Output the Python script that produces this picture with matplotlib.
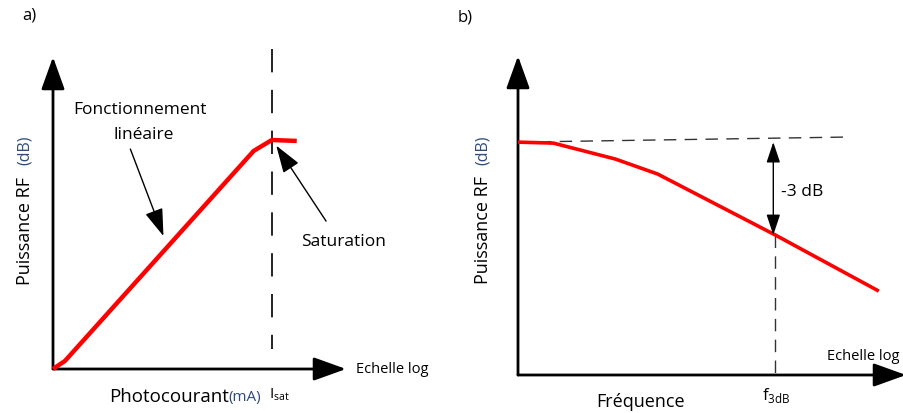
import matplotlib.pyplot as plt

plt.rcParams['font.family'] = ['Open Sans', 'DejaVu Sans']

# ---- data (normalised schematic units, axes fraction 0..1)
# panel a : RF power vs photocurrent (log scale)
photocourant = [0.0, 0.041, 0.685, 0.747, 0.832]
puissance_a = [0.0, 0.026, 0.699, 0.734, 0.731]
i_sat = 0.747

# panel b : RF power vs frequency (log scale)
frequence = [0.0, 0.091, 0.251, 0.360, 0.663, 0.930]
puissance_b = [0.730, 0.727, 0.677, 0.630, 0.439, 0.263]
f_3db = 0.663
ref_level = [0.730, 0.746]   # dashed reference, start / end
ref_end = 0.852

RED = '#ff0000'
BLUE = '#2f4b7c'
W, H = 904, 414

fig = plt.figure(figsize=(W / 100, H / 100), dpi=100)


def add_panel(x0, y0, x1, y1):
    # pixel box (origin bottom-left corner at x0,y0 ; arrow tips at x1,y1)
    ax = fig.add_axes([x0 / W, 1 - y0 / H, (x1 - x0) / W, (y0 - y1) / H])
    ax.set_xlim(0, 1)
    ax.set_ylim(0, 1)
    ax.axis('off')
    head = dict(arrowstyle='-|>,head_length=1.0,head_width=0.36', lw=2,
                color='black', mutation_scale=20, shrinkA=0, shrinkB=0)
    ax.annotate('', xy=(0, 1), xytext=(0, 0), arrowprops=head, annotation_clip=False)
    ax.annotate('', xy=(1, 0), xytext=(0, 0), arrowprops=head, annotation_clip=False)
    return ax


def ylabel(ax, xoff, y_main, y_unit):
    ax.text(xoff, y_main, 'Puissance RF', rotation=90, ha='center', va='center',
            fontsize=13, transform=ax.transAxes)
    ax.text(xoff, y_unit, '(dB)', rotation=90, ha='center', va='center',
            fontsize=11.5, color=BLUE, transform=ax.transAxes)


# ---------------- panel a
axa = add_panel(53, 370, 346, 58)
axa.plot(photocourant, puissance_a, color=RED, lw=3.2, solid_capstyle='butt',
         solid_joinstyle='round', clip_on=False, zorder=3)
axa.plot([i_sat, i_sat], [1.026, 0.064], color='#222222', lw=1.4,
         dashes=(12, 9), clip_on=False)
arr = dict(arrowstyle='-|>,head_length=0.9,head_width=0.3', lw=1, color='black',
           mutation_scale=19, shrinkA=0, shrinkB=0)
axa.annotate('', xy=(0.377, 0.426), xytext=(0.264, 0.705), arrowprops=arr)
axa.annotate('', xy=(0.762, 0.716), xytext=(0.932, 0.474), arrowprops=arr)
axa.text(0.298, 0.833, 'Fonctionnement', ha='center', va='center', fontsize=12.5)
axa.text(0.308, 0.753, 'linéaire', ha='center', va='center', fontsize=12.5)
axa.text(0.993, 0.410, 'Saturation', ha='center', va='center', fontsize=12.5)
axa.text(1.035, 0.0, 'Echelle log', ha='left', va='center', fontsize=10.5)
axa.text(0.599, -0.087, 'Photocourant', ha='right', va='center', fontsize=13.5)
axa.text(0.599, -0.087, '(mA)', ha='left', va='center', fontsize=11, color=BLUE)
axa.text(0.738, -0.08, r'I$_{\mathregular{sat}}$', ha='left', va='center', fontsize=11)
ylabel(axa, -0.095, 0.445, 0.705)
fig.text(22 / W, 1 - 15 / H, 'a)', ha='left', va='center', fontsize=12)

# ---------------- panel b
axb = add_panel(518, 376, 906, 57)
axb.plot(frequence, puissance_b, color=RED, lw=2.6, solid_capstyle='butt',
         clip_on=False, zorder=3)
axb.plot([0, ref_end], ref_level, color='#333333', lw=1, dashes=(9, 6), clip_on=False)
axb.plot([f_3db, f_3db], [puissance_b[4], 0], color='#333333', lw=1,
         dashes=(9, 6), clip_on=False)
dbl = dict(arrowstyle='<|-|>,head_length=0.9,head_width=0.3', lw=1, color='black',
           mutation_scale=14, shrinkA=0, shrinkB=0)
axb.annotate('', xy=(f_3db - 0.005, 0.439), xytext=(f_3db - 0.005, 0.730), arrowprops=dbl)
axb.text(0.679, 0.577, '-3 dB', ha='left', va='center', fontsize=12.5)
axb.text(0.796, 0.062, 'Echelle log', ha='left', va='center', fontsize=10.5)
axb.text(0.666, -0.06, r'f$_{\mathregular{3dB}}$', ha='center', va='center', fontsize=12)
axb.text(0.316, -0.082, 'Fréquence', ha='center', va='center', fontsize=13)
ylabel(axb, -0.09, 0.458, 0.708)
fig.text(458 / W, 1 - 18 / H, 'b)', ha='left', va='center', fontsize=12)

fig.savefig('out.png', dpi=100, facecolor='white')
